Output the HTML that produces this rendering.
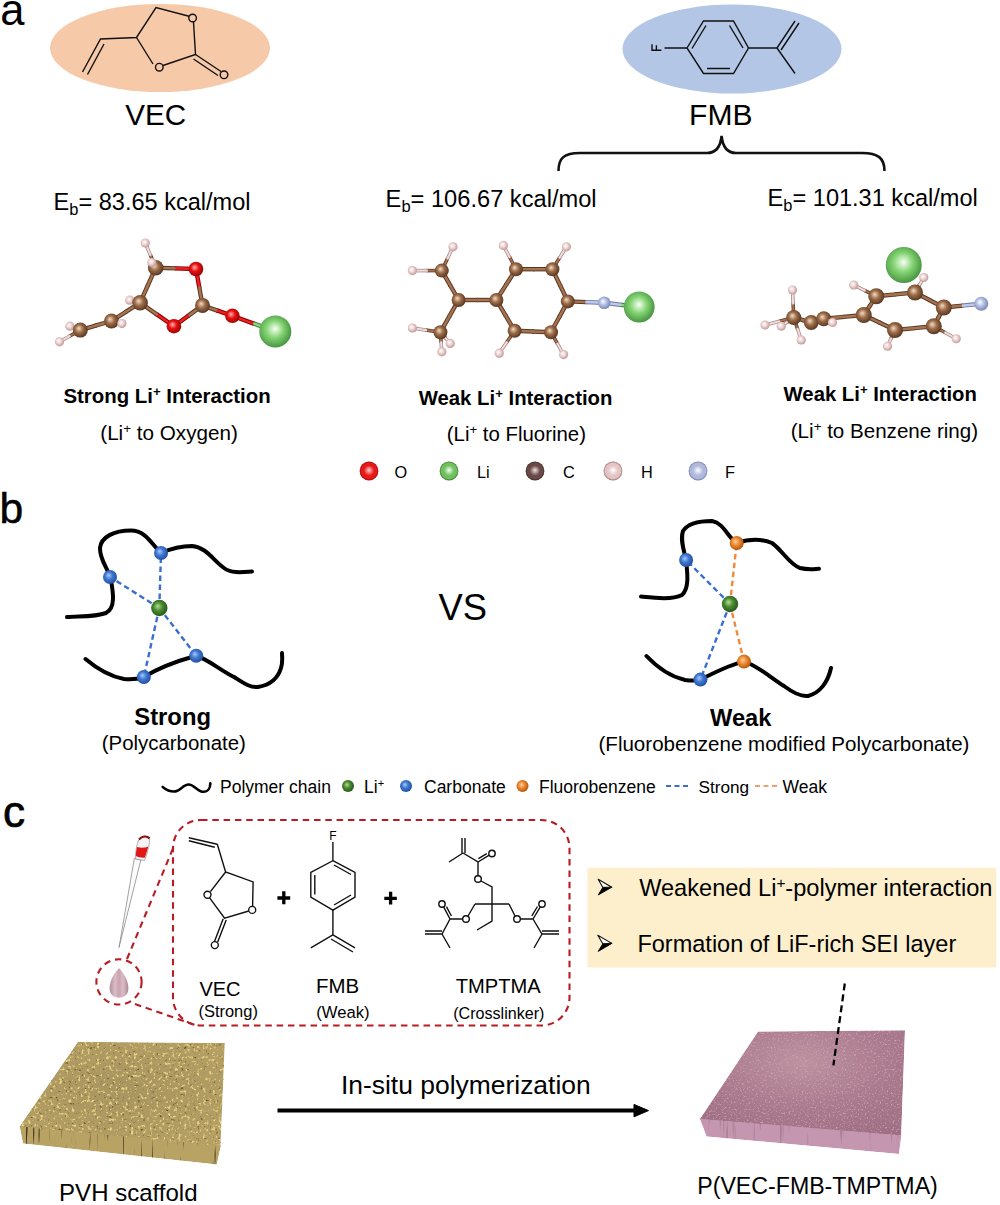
<!DOCTYPE html><html><head><meta charset="utf-8"><style>html,body{margin:0;padding:0;background:#fff;overflow:hidden}svg{display:block}text{font-family:"Liberation Sans",sans-serif}</style></head><body>
<svg width="1000" height="1205" viewBox="0 0 1000 1205">
<defs>
<radialGradient id="gC" cx="45%" cy="45%" r="60%" fx="40%" fy="38%"><stop offset="0" stop-color="#f4dcc4"/><stop offset="0.45" stop-color="#9c6c48"/><stop offset="1" stop-color="#4e301c"/></radialGradient>
<radialGradient id="gO" cx="45%" cy="45%" r="60%" fx="40%" fy="38%"><stop offset="0" stop-color="#ffb0b0"/><stop offset="0.45" stop-color="#e81010"/><stop offset="1" stop-color="#900000"/></radialGradient>
<radialGradient id="gLi" cx="45%" cy="45%" r="60%" fx="50%" fy="42%"><stop offset="0" stop-color="#f8fff4"/><stop offset="0.45" stop-color="#84d474"/><stop offset="1" stop-color="#3e8c3a"/></radialGradient>
<radialGradient id="gH" cx="45%" cy="45%" r="60%" fx="40%" fy="38%"><stop offset="0" stop-color="#ffffff"/><stop offset="0.45" stop-color="#efd4d4"/><stop offset="1" stop-color="#b89090"/></radialGradient>
<radialGradient id="gF" cx="45%" cy="45%" r="60%" fx="40%" fy="38%"><stop offset="0" stop-color="#ffffff"/><stop offset="0.45" stop-color="#b4c0e4"/><stop offset="1" stop-color="#7080b0"/></radialGradient>
<radialGradient id="gLC" cx="45%" cy="45%" r="60%" fx="40%" fy="38%"><stop offset="0" stop-color="#f0d8d0"/><stop offset="0.45" stop-color="#6e4444"/><stop offset="1" stop-color="#3a2020"/></radialGradient>
<radialGradient id="gBlue" cx="45%" cy="45%" r="60%" fx="40%" fy="38%"><stop offset="0" stop-color="#a8c8ff"/><stop offset="0.45" stop-color="#3f78d0"/><stop offset="1" stop-color="#1e4a98"/></radialGradient>
<radialGradient id="gGreen" cx="45%" cy="45%" r="60%" fx="40%" fy="38%"><stop offset="0" stop-color="#b0e090"/><stop offset="0.45" stop-color="#4a8a30"/><stop offset="1" stop-color="#24501a"/></radialGradient>
<radialGradient id="gOr" cx="45%" cy="45%" r="60%" fx="40%" fy="38%"><stop offset="0" stop-color="#ffd0a0"/><stop offset="0.45" stop-color="#ee8a30"/><stop offset="1" stop-color="#a8500a"/></radialGradient>
<radialGradient id="gOL" cx="50%" cy="50%" r="50%" fx="50%" fy="45%"><stop offset="0" stop-color="#ffd0d0"/><stop offset="0.55" stop-color="#e81818"/><stop offset="0.82" stop-color="#e81818"/><stop offset="1" stop-color="#a00808"/></radialGradient>
<radialGradient id="gLiL" cx="50%" cy="50%" r="50%" fx="50%" fy="45%"><stop offset="0" stop-color="#f0fff0"/><stop offset="0.55" stop-color="#70c060"/><stop offset="0.82" stop-color="#70c060"/><stop offset="1" stop-color="#3a7a30"/></radialGradient>
<radialGradient id="gLCL" cx="50%" cy="50%" r="50%" fx="50%" fy="45%"><stop offset="0" stop-color="#f0e0e0"/><stop offset="0.55" stop-color="#6a4a48"/><stop offset="0.82" stop-color="#6a4a48"/><stop offset="1" stop-color="#3a2828"/></radialGradient>
<radialGradient id="gHL" cx="50%" cy="50%" r="50%" fx="50%" fy="45%"><stop offset="0" stop-color="#ffffff"/><stop offset="0.55" stop-color="#e4c4c4"/><stop offset="0.82" stop-color="#e4c4c4"/><stop offset="1" stop-color="#9a7070"/></radialGradient>
<radialGradient id="gFL" cx="50%" cy="50%" r="50%" fx="50%" fy="45%"><stop offset="0" stop-color="#ffffff"/><stop offset="0.55" stop-color="#b0b8dc"/><stop offset="0.82" stop-color="#b0b8dc"/><stop offset="1" stop-color="#707aa8"/></radialGradient>
</defs>
<text x="0.34" y="25" font-size="43.53" fill="#000">a</text>
<ellipse cx="160" cy="48" rx="110" ry="44" fill="#f6c9a8"/>
<ellipse cx="732" cy="49" rx="109.5" ry="44.5" fill="#b3c6e6"/>
<g stroke="#111" stroke-width="1.4" fill="none">
<path d="M82.5,72 L100.5,39 L136.5,37.5 L156,7.5 L190,16.5"/>
<path d="M87.5,74.5 L104,44"/>
<path d="M193.5,22 L195.5,54.5 L163,65.5"/>
<path d="M153,64 L136.5,37.5"/>
<path d="M195.5,54.5 L221,71.5 M193.5,59 L218,75.5"/>
<g fill="#f6c9a8"><circle cx="192.6" cy="18" r="3.8"/><circle cx="159.3" cy="67.2" r="3.8"/><circle cx="224" cy="74.8" r="3.8"/></g>
</g>
<g stroke="#111" stroke-width="1.4" fill="none">
<path d="M687,48 L703.5,21 L733.5,21 L748.5,48 L733.5,73.5 L703.5,73.5 Z"/>
<path d="M692,48.5 L706,25.5 M729.5,25.5 L743,48 M707,68.5 L730,68.5"/>
<path d="M664.5,48 L687,48 M748.5,48 L777,48 L795,21 M777,48 L795,73.5 M781,50 L799,23"/>
</g>
<path d="M652,44.3 V50.3 H661.4 M656.4,45.3 V50.3" stroke="#111" stroke-width="1.4" fill="none"/>
<text x="125.35" y="125.3" font-size="29.60" fill="#000">VEC</text>
<text x="689.10" y="124.5" font-size="30.05" fill="#000">FMB</text>
<path d="M558.5,171 C558.5,158 564,153 580,153 L707,153 C716,153 720.5,147 721.6,136 C722.7,147 727,153 736,153 L862,153 C878,153 884.5,158 884.5,171" stroke="#111" stroke-width="2.6" fill="none"/>
<text x="53.52" y="210.3" font-size="23.55" fill="#000">E<tspan font-size="16.48" dy="4.95">b</tspan><tspan dy="-4.95">= 83.65 kcal/mol</tspan></text>
<text x="385.61" y="207" font-size="23.65" fill="#000">E<tspan font-size="16.55" dy="4.97">b</tspan><tspan dy="-4.97">= 106.67 kcal/mol</tspan></text>
<text x="767.62" y="206.3" font-size="23.56" fill="#000">E<tspan font-size="16.49" dy="4.95">b</tspan><tspan dy="-4.95">= 101.31 kcal/mol</tspan></text>
<line x1="155.7" y1="267.7" x2="150.27" y2="254.80" stroke="#5a3822" stroke-width="3.5200000000000005"/>
<line x1="150.73" y1="255.90" x2="145.3" y2="243" stroke="#a88888" stroke-width="3.5200000000000005"/>
<line x1="155.7" y1="267.7" x2="176.45" y2="268.37" stroke="#5a3822" stroke-width="4.4"/>
<line x1="175.25" y1="268.33" x2="196" y2="269" stroke="#8a0000" stroke-width="4.4"/>
<line x1="196" y1="269" x2="199.36" y2="287.79" stroke="#8a0000" stroke-width="4.4"/>
<line x1="199.14" y1="286.61" x2="202.5" y2="305.4" stroke="#5a3822" stroke-width="4.4"/>
<line x1="202.5" y1="305.4" x2="218.02" y2="310.80" stroke="#5a3822" stroke-width="4.4"/>
<line x1="216.88" y1="310.40" x2="232.4" y2="315.8" stroke="#8a0000" stroke-width="4.4"/>
<line x1="232.4" y1="315.8" x2="254.41" y2="323.81" stroke="#8a0000" stroke-width="4.4"/>
<line x1="253.29" y1="323.39" x2="275.3" y2="331.4" stroke="#3a8038" stroke-width="4.4"/>
<line x1="202.5" y1="305.4" x2="187.71" y2="316.15" stroke="#5a3822" stroke-width="4.4"/>
<line x1="188.69" y1="315.45" x2="173.9" y2="326.2" stroke="#8a0000" stroke-width="4.4"/>
<line x1="173.9" y1="326.2" x2="156.51" y2="314.16" stroke="#8a0000" stroke-width="4.4"/>
<line x1="157.49" y1="314.84" x2="140.1" y2="302.8" stroke="#5a3822" stroke-width="4.4"/>
<line x1="140.1" y1="302.8" x2="148.14" y2="284.70" stroke="#5a3822" stroke-width="4.4"/>
<line x1="147.66" y1="285.80" x2="155.7" y2="267.7" stroke="#5a3822" stroke-width="4.4"/>
<line x1="140.1" y1="302.8" x2="125.29" y2="312.22" stroke="#5a3822" stroke-width="4.4"/>
<line x1="126.31" y1="311.58" x2="111.5" y2="321" stroke="#5a3822" stroke-width="4.4"/>
<line x1="111.5" y1="321" x2="95.32" y2="325.72" stroke="#5a3822" stroke-width="4.4"/>
<line x1="96.48" y1="325.38" x2="80.3" y2="330.1" stroke="#5a3822" stroke-width="4.4"/>
<line x1="80.3" y1="330.1" x2="74.54" y2="327.94" stroke="#5a3822" stroke-width="3.5200000000000005"/>
<line x1="75.66" y1="328.36" x2="69.9" y2="326.2" stroke="#a88888" stroke-width="3.5200000000000005"/>
<line x1="80.3" y1="330.1" x2="69.38" y2="336.24" stroke="#5a3822" stroke-width="3.5200000000000005"/>
<line x1="70.42" y1="335.66" x2="59.5" y2="341.8" stroke="#a88888" stroke-width="3.5200000000000005"/>
<line x1="140.1" y1="302.8" x2="134.32" y2="301.35" stroke="#5a3822" stroke-width="3.5200000000000005"/>
<line x1="135.48" y1="301.65" x2="129.7" y2="300.2" stroke="#a88888" stroke-width="3.5200000000000005"/>
<line x1="111.5" y1="321" x2="117.28" y2="322.45" stroke="#5a3822" stroke-width="3.5200000000000005"/>
<line x1="116.12" y1="322.15" x2="121.9" y2="323.6" stroke="#a88888" stroke-width="3.5200000000000005"/>
<line x1="155.7" y1="267.7" x2="150.27" y2="254.80" stroke="#a57452" stroke-width="1.94"/>
<line x1="150.73" y1="255.90" x2="145.3" y2="243" stroke="#f2dede" stroke-width="1.94"/>
<line x1="155.7" y1="267.7" x2="176.45" y2="268.37" stroke="#a57452" stroke-width="2.42"/>
<line x1="175.25" y1="268.33" x2="196" y2="269" stroke="#ee2020" stroke-width="2.42"/>
<line x1="196" y1="269" x2="199.36" y2="287.79" stroke="#ee2020" stroke-width="2.42"/>
<line x1="199.14" y1="286.61" x2="202.5" y2="305.4" stroke="#a57452" stroke-width="2.42"/>
<line x1="202.5" y1="305.4" x2="218.02" y2="310.80" stroke="#a57452" stroke-width="2.42"/>
<line x1="216.88" y1="310.40" x2="232.4" y2="315.8" stroke="#ee2020" stroke-width="2.42"/>
<line x1="232.4" y1="315.8" x2="254.41" y2="323.81" stroke="#ee2020" stroke-width="2.42"/>
<line x1="253.29" y1="323.39" x2="275.3" y2="331.4" stroke="#88d878" stroke-width="2.42"/>
<line x1="202.5" y1="305.4" x2="187.71" y2="316.15" stroke="#a57452" stroke-width="2.42"/>
<line x1="188.69" y1="315.45" x2="173.9" y2="326.2" stroke="#ee2020" stroke-width="2.42"/>
<line x1="173.9" y1="326.2" x2="156.51" y2="314.16" stroke="#ee2020" stroke-width="2.42"/>
<line x1="157.49" y1="314.84" x2="140.1" y2="302.8" stroke="#a57452" stroke-width="2.42"/>
<line x1="140.1" y1="302.8" x2="148.14" y2="284.70" stroke="#a57452" stroke-width="2.42"/>
<line x1="147.66" y1="285.80" x2="155.7" y2="267.7" stroke="#a57452" stroke-width="2.42"/>
<line x1="140.1" y1="302.8" x2="125.29" y2="312.22" stroke="#a57452" stroke-width="2.42"/>
<line x1="126.31" y1="311.58" x2="111.5" y2="321" stroke="#a57452" stroke-width="2.42"/>
<line x1="111.5" y1="321" x2="95.32" y2="325.72" stroke="#a57452" stroke-width="2.42"/>
<line x1="96.48" y1="325.38" x2="80.3" y2="330.1" stroke="#a57452" stroke-width="2.42"/>
<line x1="80.3" y1="330.1" x2="74.54" y2="327.94" stroke="#a57452" stroke-width="1.94"/>
<line x1="75.66" y1="328.36" x2="69.9" y2="326.2" stroke="#f2dede" stroke-width="1.94"/>
<line x1="80.3" y1="330.1" x2="69.38" y2="336.24" stroke="#a57452" stroke-width="1.94"/>
<line x1="70.42" y1="335.66" x2="59.5" y2="341.8" stroke="#f2dede" stroke-width="1.94"/>
<line x1="140.1" y1="302.8" x2="134.32" y2="301.35" stroke="#a57452" stroke-width="1.94"/>
<line x1="135.48" y1="301.65" x2="129.7" y2="300.2" stroke="#f2dede" stroke-width="1.94"/>
<line x1="111.5" y1="321" x2="117.28" y2="322.45" stroke="#a57452" stroke-width="1.94"/>
<line x1="116.12" y1="322.15" x2="121.9" y2="323.6" stroke="#f2dede" stroke-width="1.94"/>
<circle cx="145.3" cy="243" r="4.6" fill="url(#gH)"/>
<circle cx="129.7" cy="300.2" r="4.6" fill="url(#gH)"/>
<circle cx="69.9" cy="326.2" r="4.6" fill="url(#gH)"/>
<circle cx="59.5" cy="341.8" r="4.6" fill="url(#gH)"/>
<circle cx="155.7" cy="267.7" r="7.8" fill="url(#gC)"/>
<circle cx="151.8" cy="262.5" r="4.6" fill="url(#gH)"/>
<circle cx="196" cy="269" r="7.3" fill="url(#gO)"/>
<circle cx="202.5" cy="305.4" r="7.5" fill="url(#gC)"/>
<circle cx="232.4" cy="315.8" r="7.3" fill="url(#gO)"/>
<circle cx="275.3" cy="331.4" r="16" fill="url(#gLi)"/>
<circle cx="173.9" cy="326.2" r="7.3" fill="url(#gO)"/>
<circle cx="140.1" cy="302.8" r="7.8" fill="url(#gC)"/>
<circle cx="111.5" cy="321" r="7.5" fill="url(#gC)"/>
<circle cx="121.9" cy="323.6" r="4.6" fill="url(#gH)"/>
<circle cx="80.3" cy="330.1" r="7.5" fill="url(#gC)"/>
<line x1="441.8" y1="270.6" x2="447.66" y2="258.16" stroke="#5a3822" stroke-width="3.5200000000000005"/>
<line x1="447.14" y1="259.24" x2="453" y2="246.8" stroke="#a88888" stroke-width="3.5200000000000005"/>
<line x1="441.8" y1="270.6" x2="426.50" y2="270.60" stroke="#5a3822" stroke-width="3.5200000000000005"/>
<line x1="427.70" y1="270.60" x2="412.4" y2="270.6" stroke="#a88888" stroke-width="3.5200000000000005"/>
<line x1="441.8" y1="270.6" x2="450.50" y2="285.82" stroke="#5a3822" stroke-width="4.4"/>
<line x1="449.90" y1="284.78" x2="458.6" y2="300" stroke="#5a3822" stroke-width="4.4"/>
<line x1="458.6" y1="300" x2="478.10" y2="300.00" stroke="#5a3822" stroke-width="4.4"/>
<line x1="476.90" y1="300.00" x2="496.4" y2="300" stroke="#5a3822" stroke-width="4.4"/>
<line x1="458.6" y1="300" x2="449.20" y2="316.62" stroke="#5a3822" stroke-width="4.4"/>
<line x1="449.80" y1="315.58" x2="440.4" y2="332.2" stroke="#5a3822" stroke-width="4.4"/>
<line x1="440.4" y1="332.2" x2="425.81" y2="330.01" stroke="#5a3822" stroke-width="3.5200000000000005"/>
<line x1="426.99" y1="330.19" x2="412.4" y2="328" stroke="#a88888" stroke-width="3.5200000000000005"/>
<line x1="440.4" y1="332.2" x2="445.70" y2="338.25" stroke="#5a3822" stroke-width="3.5200000000000005"/>
<line x1="444.90" y1="337.35" x2="450.2" y2="343.4" stroke="#a88888" stroke-width="3.5200000000000005"/>
<line x1="440.4" y1="332.2" x2="441.14" y2="342.60" stroke="#5a3822" stroke-width="3.5200000000000005"/>
<line x1="441.06" y1="341.40" x2="441.8" y2="351.8" stroke="#a88888" stroke-width="3.5200000000000005"/>
<line x1="496.4" y1="300" x2="506.52" y2="284.09" stroke="#5a3822" stroke-width="4.4"/>
<line x1="505.88" y1="285.11" x2="516" y2="269.2" stroke="#5a3822" stroke-width="4.4"/>
<line x1="516" y1="269.2" x2="534.80" y2="269.20" stroke="#5a3822" stroke-width="4.4"/>
<line x1="533.60" y1="269.20" x2="552.4" y2="269.2" stroke="#5a3822" stroke-width="4.4"/>
<line x1="552.4" y1="269.2" x2="560.36" y2="285.84" stroke="#5a3822" stroke-width="4.4"/>
<line x1="559.84" y1="284.76" x2="567.8" y2="301.4" stroke="#5a3822" stroke-width="4.4"/>
<line x1="567.8" y1="301.4" x2="559.11" y2="317.33" stroke="#5a3822" stroke-width="4.4"/>
<line x1="559.69" y1="316.27" x2="551" y2="332.2" stroke="#5a3822" stroke-width="4.4"/>
<line x1="551" y1="332.2" x2="532.20" y2="331.48" stroke="#5a3822" stroke-width="4.4"/>
<line x1="533.40" y1="331.52" x2="514.6" y2="330.8" stroke="#5a3822" stroke-width="4.4"/>
<line x1="514.6" y1="330.8" x2="505.19" y2="314.88" stroke="#5a3822" stroke-width="4.4"/>
<line x1="505.81" y1="315.92" x2="496.4" y2="300" stroke="#5a3822" stroke-width="4.4"/>
<line x1="516" y1="269.2" x2="509.42" y2="256.77" stroke="#5a3822" stroke-width="3.5200000000000005"/>
<line x1="509.98" y1="257.83" x2="503.4" y2="245.4" stroke="#a88888" stroke-width="3.5200000000000005"/>
<line x1="552.4" y1="269.2" x2="559.72" y2="257.49" stroke="#5a3822" stroke-width="3.5200000000000005"/>
<line x1="559.08" y1="258.51" x2="566.4" y2="246.8" stroke="#a88888" stroke-width="3.5200000000000005"/>
<line x1="551" y1="332.2" x2="557.59" y2="343.92" stroke="#5a3822" stroke-width="3.5200000000000005"/>
<line x1="557.01" y1="342.88" x2="563.6" y2="354.6" stroke="#a88888" stroke-width="3.5200000000000005"/>
<line x1="514.6" y1="330.8" x2="506.56" y2="342.49" stroke="#5a3822" stroke-width="3.5200000000000005"/>
<line x1="507.24" y1="341.51" x2="499.2" y2="353.2" stroke="#a88888" stroke-width="3.5200000000000005"/>
<line x1="567.8" y1="301.4" x2="586.60" y2="302.12" stroke="#5a3822" stroke-width="4.4"/>
<line x1="585.40" y1="302.08" x2="604.2" y2="302.8" stroke="#6a78a8" stroke-width="4.4"/>
<line x1="604.2" y1="302.8" x2="622.30" y2="304.97" stroke="#6a78a8" stroke-width="4.4"/>
<line x1="621.10" y1="304.83" x2="639.2" y2="307" stroke="#3a8038" stroke-width="4.4"/>
<line x1="441.8" y1="270.6" x2="447.66" y2="258.16" stroke="#a57452" stroke-width="1.94"/>
<line x1="447.14" y1="259.24" x2="453" y2="246.8" stroke="#f2dede" stroke-width="1.94"/>
<line x1="441.8" y1="270.6" x2="426.50" y2="270.60" stroke="#a57452" stroke-width="1.94"/>
<line x1="427.70" y1="270.60" x2="412.4" y2="270.6" stroke="#f2dede" stroke-width="1.94"/>
<line x1="441.8" y1="270.6" x2="450.50" y2="285.82" stroke="#a57452" stroke-width="2.42"/>
<line x1="449.90" y1="284.78" x2="458.6" y2="300" stroke="#a57452" stroke-width="2.42"/>
<line x1="458.6" y1="300" x2="478.10" y2="300.00" stroke="#a57452" stroke-width="2.42"/>
<line x1="476.90" y1="300.00" x2="496.4" y2="300" stroke="#a57452" stroke-width="2.42"/>
<line x1="458.6" y1="300" x2="449.20" y2="316.62" stroke="#a57452" stroke-width="2.42"/>
<line x1="449.80" y1="315.58" x2="440.4" y2="332.2" stroke="#a57452" stroke-width="2.42"/>
<line x1="440.4" y1="332.2" x2="425.81" y2="330.01" stroke="#a57452" stroke-width="1.94"/>
<line x1="426.99" y1="330.19" x2="412.4" y2="328" stroke="#f2dede" stroke-width="1.94"/>
<line x1="440.4" y1="332.2" x2="445.70" y2="338.25" stroke="#a57452" stroke-width="1.94"/>
<line x1="444.90" y1="337.35" x2="450.2" y2="343.4" stroke="#f2dede" stroke-width="1.94"/>
<line x1="440.4" y1="332.2" x2="441.14" y2="342.60" stroke="#a57452" stroke-width="1.94"/>
<line x1="441.06" y1="341.40" x2="441.8" y2="351.8" stroke="#f2dede" stroke-width="1.94"/>
<line x1="496.4" y1="300" x2="506.52" y2="284.09" stroke="#a57452" stroke-width="2.42"/>
<line x1="505.88" y1="285.11" x2="516" y2="269.2" stroke="#a57452" stroke-width="2.42"/>
<line x1="516" y1="269.2" x2="534.80" y2="269.20" stroke="#a57452" stroke-width="2.42"/>
<line x1="533.60" y1="269.20" x2="552.4" y2="269.2" stroke="#a57452" stroke-width="2.42"/>
<line x1="552.4" y1="269.2" x2="560.36" y2="285.84" stroke="#a57452" stroke-width="2.42"/>
<line x1="559.84" y1="284.76" x2="567.8" y2="301.4" stroke="#a57452" stroke-width="2.42"/>
<line x1="567.8" y1="301.4" x2="559.11" y2="317.33" stroke="#a57452" stroke-width="2.42"/>
<line x1="559.69" y1="316.27" x2="551" y2="332.2" stroke="#a57452" stroke-width="2.42"/>
<line x1="551" y1="332.2" x2="532.20" y2="331.48" stroke="#a57452" stroke-width="2.42"/>
<line x1="533.40" y1="331.52" x2="514.6" y2="330.8" stroke="#a57452" stroke-width="2.42"/>
<line x1="514.6" y1="330.8" x2="505.19" y2="314.88" stroke="#a57452" stroke-width="2.42"/>
<line x1="505.81" y1="315.92" x2="496.4" y2="300" stroke="#a57452" stroke-width="2.42"/>
<line x1="516" y1="269.2" x2="509.42" y2="256.77" stroke="#a57452" stroke-width="1.94"/>
<line x1="509.98" y1="257.83" x2="503.4" y2="245.4" stroke="#f2dede" stroke-width="1.94"/>
<line x1="552.4" y1="269.2" x2="559.72" y2="257.49" stroke="#a57452" stroke-width="1.94"/>
<line x1="559.08" y1="258.51" x2="566.4" y2="246.8" stroke="#f2dede" stroke-width="1.94"/>
<line x1="551" y1="332.2" x2="557.59" y2="343.92" stroke="#a57452" stroke-width="1.94"/>
<line x1="557.01" y1="342.88" x2="563.6" y2="354.6" stroke="#f2dede" stroke-width="1.94"/>
<line x1="514.6" y1="330.8" x2="506.56" y2="342.49" stroke="#a57452" stroke-width="1.94"/>
<line x1="507.24" y1="341.51" x2="499.2" y2="353.2" stroke="#f2dede" stroke-width="1.94"/>
<line x1="567.8" y1="301.4" x2="586.60" y2="302.12" stroke="#a57452" stroke-width="2.42"/>
<line x1="585.40" y1="302.08" x2="604.2" y2="302.8" stroke="#c0cae8" stroke-width="2.42"/>
<line x1="604.2" y1="302.8" x2="622.30" y2="304.97" stroke="#c0cae8" stroke-width="2.42"/>
<line x1="621.10" y1="304.83" x2="639.2" y2="307" stroke="#88d878" stroke-width="2.42"/>
<circle cx="453" cy="246.8" r="4.6" fill="url(#gH)"/>
<circle cx="412.4" cy="270.6" r="4.6" fill="url(#gH)"/>
<circle cx="412.4" cy="328" r="4.6" fill="url(#gH)"/>
<circle cx="441.8" cy="351.8" r="4.6" fill="url(#gH)"/>
<circle cx="503.4" cy="245.4" r="4.6" fill="url(#gH)"/>
<circle cx="566.4" cy="246.8" r="4.6" fill="url(#gH)"/>
<circle cx="563.6" cy="354.6" r="4.6" fill="url(#gH)"/>
<circle cx="499.2" cy="353.2" r="4.6" fill="url(#gH)"/>
<circle cx="441.8" cy="270.6" r="7" fill="url(#gC)"/>
<circle cx="458.6" cy="300" r="7" fill="url(#gC)"/>
<circle cx="440.4" cy="332.2" r="7" fill="url(#gC)"/>
<circle cx="450.2" cy="343.4" r="4.6" fill="url(#gH)"/>
<circle cx="496.4" cy="300" r="7" fill="url(#gC)"/>
<circle cx="516" cy="269.2" r="7" fill="url(#gC)"/>
<circle cx="552.4" cy="269.2" r="7" fill="url(#gC)"/>
<circle cx="567.8" cy="301.4" r="7" fill="url(#gC)"/>
<circle cx="551" cy="332.2" r="7" fill="url(#gC)"/>
<circle cx="514.6" cy="330.8" r="7" fill="url(#gC)"/>
<circle cx="604.2" cy="302.8" r="6.3" fill="url(#gF)"/>
<circle cx="639.2" cy="307" r="15.4" fill="url(#gLi)"/>
<line x1="863.75" y1="315" x2="870.33" y2="305.13" stroke="#5a3822" stroke-width="4.4"/>
<line x1="869.67" y1="306.12" x2="876.25" y2="296.25" stroke="#5a3822" stroke-width="4.4"/>
<line x1="876.25" y1="296.25" x2="896.22" y2="294.32" stroke="#5a3822" stroke-width="4.4"/>
<line x1="895.03" y1="294.43" x2="915" y2="292.5" stroke="#5a3822" stroke-width="4.4"/>
<line x1="915" y1="292.5" x2="929.91" y2="300.28" stroke="#5a3822" stroke-width="4.4"/>
<line x1="928.84" y1="299.72" x2="943.75" y2="307.5" stroke="#5a3822" stroke-width="4.4"/>
<line x1="943.75" y1="307.5" x2="938.47" y2="317.40" stroke="#5a3822" stroke-width="4.4"/>
<line x1="939.03" y1="316.35" x2="933.75" y2="326.25" stroke="#5a3822" stroke-width="4.4"/>
<line x1="933.75" y1="326.25" x2="913.78" y2="328.18" stroke="#5a3822" stroke-width="4.4"/>
<line x1="914.97" y1="328.07" x2="895" y2="330" stroke="#5a3822" stroke-width="4.4"/>
<line x1="895" y1="330" x2="878.83" y2="322.24" stroke="#5a3822" stroke-width="4.4"/>
<line x1="879.92" y1="322.76" x2="863.75" y2="315" stroke="#5a3822" stroke-width="4.4"/>
<line x1="915" y1="292.5" x2="919.68" y2="284.48" stroke="#5a3822" stroke-width="3.5200000000000005"/>
<line x1="919.07" y1="285.52" x2="923.75" y2="277.5" stroke="#a88888" stroke-width="3.5200000000000005"/>
<line x1="876.25" y1="296.25" x2="864.46" y2="290.36" stroke="#5a3822" stroke-width="3.5200000000000005"/>
<line x1="865.54" y1="290.89" x2="853.75" y2="285" stroke="#a88888" stroke-width="3.5200000000000005"/>
<line x1="943.75" y1="307.5" x2="963.10" y2="305.57" stroke="#5a3822" stroke-width="4.4"/>
<line x1="961.90" y1="305.68" x2="981.25" y2="303.75" stroke="#6a78a8" stroke-width="4.4"/>
<line x1="933.75" y1="326.25" x2="945.52" y2="332.79" stroke="#5a3822" stroke-width="3.5200000000000005"/>
<line x1="944.48" y1="332.21" x2="956.25" y2="338.75" stroke="#a88888" stroke-width="3.5200000000000005"/>
<line x1="895" y1="330" x2="891.00" y2="338.67" stroke="#5a3822" stroke-width="3.5200000000000005"/>
<line x1="891.50" y1="337.58" x2="887.5" y2="346.25" stroke="#a88888" stroke-width="3.5200000000000005"/>
<line x1="863.75" y1="315" x2="843.15" y2="316.93" stroke="#5a3822" stroke-width="4.4"/>
<line x1="844.35" y1="316.82" x2="823.75" y2="318.75" stroke="#5a3822" stroke-width="4.4"/>
<line x1="823.75" y1="318.75" x2="816.93" y2="320.80" stroke="#5a3822" stroke-width="4.4"/>
<line x1="818.07" y1="320.45" x2="811.25" y2="322.5" stroke="#5a3822" stroke-width="4.4"/>
<line x1="811.25" y1="322.5" x2="801.92" y2="319.84" stroke="#5a3822" stroke-width="4.4"/>
<line x1="803.08" y1="320.16" x2="793.75" y2="317.5" stroke="#5a3822" stroke-width="4.4"/>
<line x1="793.75" y1="317.5" x2="793.10" y2="303.15" stroke="#5a3822" stroke-width="3.5200000000000005"/>
<line x1="793.15" y1="304.35" x2="792.5" y2="290" stroke="#a88888" stroke-width="3.5200000000000005"/>
<line x1="793.75" y1="317.5" x2="778.79" y2="321.40" stroke="#5a3822" stroke-width="3.5200000000000005"/>
<line x1="779.96" y1="321.10" x2="765" y2="325" stroke="#a88888" stroke-width="3.5200000000000005"/>
<line x1="793.75" y1="317.5" x2="787.01" y2="322.22" stroke="#5a3822" stroke-width="3.5200000000000005"/>
<line x1="787.99" y1="321.53" x2="781.25" y2="326.25" stroke="#a88888" stroke-width="3.5200000000000005"/>
<line x1="793.75" y1="317.5" x2="797.69" y2="329.32" stroke="#5a3822" stroke-width="3.5200000000000005"/>
<line x1="797.31" y1="328.18" x2="801.25" y2="340" stroke="#a88888" stroke-width="3.5200000000000005"/>
<line x1="823.75" y1="318.75" x2="828.68" y2="320.86" stroke="#5a3822" stroke-width="3.5200000000000005"/>
<line x1="827.57" y1="320.39" x2="832.5" y2="322.5" stroke="#a88888" stroke-width="3.5200000000000005"/>
<line x1="863.75" y1="315" x2="870.33" y2="305.13" stroke="#a57452" stroke-width="2.42"/>
<line x1="869.67" y1="306.12" x2="876.25" y2="296.25" stroke="#a57452" stroke-width="2.42"/>
<line x1="876.25" y1="296.25" x2="896.22" y2="294.32" stroke="#a57452" stroke-width="2.42"/>
<line x1="895.03" y1="294.43" x2="915" y2="292.5" stroke="#a57452" stroke-width="2.42"/>
<line x1="915" y1="292.5" x2="929.91" y2="300.28" stroke="#a57452" stroke-width="2.42"/>
<line x1="928.84" y1="299.72" x2="943.75" y2="307.5" stroke="#a57452" stroke-width="2.42"/>
<line x1="943.75" y1="307.5" x2="938.47" y2="317.40" stroke="#a57452" stroke-width="2.42"/>
<line x1="939.03" y1="316.35" x2="933.75" y2="326.25" stroke="#a57452" stroke-width="2.42"/>
<line x1="933.75" y1="326.25" x2="913.78" y2="328.18" stroke="#a57452" stroke-width="2.42"/>
<line x1="914.97" y1="328.07" x2="895" y2="330" stroke="#a57452" stroke-width="2.42"/>
<line x1="895" y1="330" x2="878.83" y2="322.24" stroke="#a57452" stroke-width="2.42"/>
<line x1="879.92" y1="322.76" x2="863.75" y2="315" stroke="#a57452" stroke-width="2.42"/>
<line x1="915" y1="292.5" x2="919.68" y2="284.48" stroke="#a57452" stroke-width="1.94"/>
<line x1="919.07" y1="285.52" x2="923.75" y2="277.5" stroke="#f2dede" stroke-width="1.94"/>
<line x1="876.25" y1="296.25" x2="864.46" y2="290.36" stroke="#a57452" stroke-width="1.94"/>
<line x1="865.54" y1="290.89" x2="853.75" y2="285" stroke="#f2dede" stroke-width="1.94"/>
<line x1="943.75" y1="307.5" x2="963.10" y2="305.57" stroke="#a57452" stroke-width="2.42"/>
<line x1="961.90" y1="305.68" x2="981.25" y2="303.75" stroke="#c0cae8" stroke-width="2.42"/>
<line x1="933.75" y1="326.25" x2="945.52" y2="332.79" stroke="#a57452" stroke-width="1.94"/>
<line x1="944.48" y1="332.21" x2="956.25" y2="338.75" stroke="#f2dede" stroke-width="1.94"/>
<line x1="895" y1="330" x2="891.00" y2="338.67" stroke="#a57452" stroke-width="1.94"/>
<line x1="891.50" y1="337.58" x2="887.5" y2="346.25" stroke="#f2dede" stroke-width="1.94"/>
<line x1="863.75" y1="315" x2="843.15" y2="316.93" stroke="#a57452" stroke-width="2.42"/>
<line x1="844.35" y1="316.82" x2="823.75" y2="318.75" stroke="#a57452" stroke-width="2.42"/>
<line x1="823.75" y1="318.75" x2="816.93" y2="320.80" stroke="#a57452" stroke-width="2.42"/>
<line x1="818.07" y1="320.45" x2="811.25" y2="322.5" stroke="#a57452" stroke-width="2.42"/>
<line x1="811.25" y1="322.5" x2="801.92" y2="319.84" stroke="#a57452" stroke-width="2.42"/>
<line x1="803.08" y1="320.16" x2="793.75" y2="317.5" stroke="#a57452" stroke-width="2.42"/>
<line x1="793.75" y1="317.5" x2="793.10" y2="303.15" stroke="#a57452" stroke-width="1.94"/>
<line x1="793.15" y1="304.35" x2="792.5" y2="290" stroke="#f2dede" stroke-width="1.94"/>
<line x1="793.75" y1="317.5" x2="778.79" y2="321.40" stroke="#a57452" stroke-width="1.94"/>
<line x1="779.96" y1="321.10" x2="765" y2="325" stroke="#f2dede" stroke-width="1.94"/>
<line x1="793.75" y1="317.5" x2="787.01" y2="322.22" stroke="#a57452" stroke-width="1.94"/>
<line x1="787.99" y1="321.53" x2="781.25" y2="326.25" stroke="#f2dede" stroke-width="1.94"/>
<line x1="793.75" y1="317.5" x2="797.69" y2="329.32" stroke="#a57452" stroke-width="1.94"/>
<line x1="797.31" y1="328.18" x2="801.25" y2="340" stroke="#f2dede" stroke-width="1.94"/>
<line x1="823.75" y1="318.75" x2="828.68" y2="320.86" stroke="#a57452" stroke-width="1.94"/>
<line x1="827.57" y1="320.39" x2="832.5" y2="322.5" stroke="#f2dede" stroke-width="1.94"/>
<circle cx="792.5" cy="290" r="4.6" fill="url(#gH)"/>
<circle cx="765" cy="325" r="4.6" fill="url(#gH)"/>
<circle cx="793.75" cy="317.5" r="7.5" fill="url(#gC)"/>
<circle cx="781.25" cy="326.25" r="4.6" fill="url(#gH)"/>
<circle cx="801.25" cy="340" r="4.6" fill="url(#gH)"/>
<circle cx="811.25" cy="322.5" r="7.5" fill="url(#gC)"/>
<circle cx="823.75" cy="318.75" r="7.5" fill="url(#gC)"/>
<circle cx="832.5" cy="322.5" r="4.6" fill="url(#gH)"/>
<circle cx="853.75" cy="285" r="4.6" fill="url(#gH)"/>
<circle cx="923.75" cy="277.5" r="4.6" fill="url(#gH)"/>
<circle cx="956.25" cy="338.75" r="4.6" fill="url(#gH)"/>
<circle cx="887.5" cy="346.25" r="4.6" fill="url(#gH)"/>
<circle cx="863.75" cy="315" r="8" fill="url(#gC)"/>
<circle cx="876.25" cy="296.25" r="8" fill="url(#gC)"/>
<circle cx="915" cy="292.5" r="8" fill="url(#gC)"/>
<circle cx="943.75" cy="307.5" r="8" fill="url(#gC)"/>
<circle cx="933.75" cy="326.25" r="8" fill="url(#gC)"/>
<circle cx="895" cy="330" r="8" fill="url(#gC)"/>
<circle cx="981.25" cy="303.75" r="7" fill="url(#gF)"/>
<circle cx="903.75" cy="265" r="18" fill="url(#gLi)"/>
<text x="63.39" y="403.4" font-size="20.42" font-weight="bold" fill="#000">Strong Li<tspan font-size="13.27" dy="-7.35">+</tspan><tspan dy="7.35"> Interaction</tspan></text>
<text x="100.26" y="440.2" font-size="20.66" fill="#000">(Li<tspan font-size="13.43" dy="-7.44">+</tspan><tspan dy="7.44"> to Oxygen)</tspan></text>
<text x="418.70" y="405.1" font-size="20.33" font-weight="bold" fill="#000">Weak Li<tspan font-size="13.21" dy="-7.32">+</tspan><tspan dy="7.32"> Interaction</tspan></text>
<text x="446.78" y="441.2" font-size="20.40" fill="#000">(Li<tspan font-size="13.26" dy="-7.34">+</tspan><tspan dy="7.34"> to Fluorine)</tspan></text>
<text x="783.60" y="401" font-size="20.29" font-weight="bold" fill="#000">Weak Li<tspan font-size="13.19" dy="-7.30">+</tspan><tspan dy="7.30"> Interaction</tspan></text>
<text x="790.77" y="438.2" font-size="20.57" fill="#000">(Li<tspan font-size="13.37" dy="-7.41">+</tspan><tspan dy="7.41"> to Benzene ring)</tspan></text>
<circle cx="369" cy="471" r="9.4" fill="url(#gOL)"/>
<text x="394.5" y="477.8" font-size="16.3" text-anchor="start" fill="#000" >O</text>
<circle cx="449" cy="471" r="9.4" fill="url(#gLiL)"/>
<text x="477" y="477.8" font-size="16.3" text-anchor="start" fill="#000" >Li</text>
<circle cx="535" cy="471" r="9.4" fill="url(#gLCL)"/>
<text x="563" y="477.8" font-size="16.3" text-anchor="start" fill="#000" >C</text>
<circle cx="613" cy="471" r="9.4" fill="url(#gHL)"/>
<text x="641" y="477.8" font-size="16.3" text-anchor="start" fill="#000" >H</text>
<circle cx="698" cy="471" r="9.4" fill="url(#gFL)"/>
<text x="725" y="477.8" font-size="16.3" text-anchor="start" fill="#000" >F</text>
<text stroke="#000" stroke-width="0.5" x="-0.47" y="523" font-size="42.67" fill="#000">b</text>
<path stroke="#000" stroke-width="4" fill="none" stroke-linecap="round" stroke-linejoin="round" d="M67,617 C80,616 95,617 106,613 C116,608 113,592 111,580 C109,570 99.5,560 100,548 C101,537 114,530.5 131,530.5 C146,530.5 152,545 161,553 C170,549 180,546 192,546 C206,547 213,560 224,568 C232,574 244,572 252,571.5"/>
<path stroke="#000" stroke-width="4" fill="none" stroke-linecap="round" stroke-linejoin="round" d="M85.5,659 C95,667 108,676 124,679 C132,680 138,679 143.8,677 C155,670 170,663 196,655.7 C206,658 220,670 234,677 C242,682 250,688 258,687 C270,685 278,678 281,668 C283,662 282,657 282,653"/>
<line x1="159.3" y1="608" x2="110" y2="577" stroke="#3a6ed0" stroke-width="2.4" fill="none" stroke-dasharray="5.5,3.5"/>
<line x1="159.3" y1="608" x2="161" y2="553" stroke="#3a6ed0" stroke-width="2.4" fill="none" stroke-dasharray="5.5,3.5"/>
<line x1="159.3" y1="608" x2="143.8" y2="677" stroke="#3a6ed0" stroke-width="2.4" fill="none" stroke-dasharray="5.5,3.5"/>
<line x1="159.3" y1="608" x2="196.2" y2="655.7" stroke="#3a6ed0" stroke-width="2.4" fill="none" stroke-dasharray="5.5,3.5"/>
<circle cx="110" cy="577" r="7" fill="url(#gBlue)"/>
<circle cx="161" cy="553" r="7" fill="url(#gBlue)"/>
<circle cx="143.8" cy="677" r="7" fill="url(#gBlue)"/>
<circle cx="196.2" cy="655.7" r="7" fill="url(#gBlue)"/>
<circle cx="159.3" cy="608" r="8.2" fill="url(#gGreen)"/>
<path stroke="#000" stroke-width="4" fill="none" stroke-linecap="round" stroke-linejoin="round" d="M641,596.6 C655,598 672,600 682,595 C690,588 687,570 686,560 C684,550 680,540 683,531 C688,523 700,521 712,521 C724,523 728,538 736.7,543 C746,540 760,538 772,543 C782,550 790,565 800,568 C808,570 814,569 819,568.8"/>
<path stroke="#000" stroke-width="4" fill="none" stroke-linecap="round" stroke-linejoin="round" d="M646.5,656 C655,665 668,676 685,680 C692,681 696,681 700.4,679.6 C710,675 728,665 744,661.6 C755,664 770,677 784,686 C792,692 800,697 808,696 C820,693 828,682 831,668"/>
<line x1="730" y1="604" x2="686.1" y2="560" stroke="#3a6ed0" stroke-width="2.4" fill="none" stroke-dasharray="5.5,3.5"/>
<line x1="730" y1="604" x2="700.4" y2="679.6" stroke="#3a6ed0" stroke-width="2.4" fill="none" stroke-dasharray="5.5,3.5"/>
<line x1="730" y1="604" x2="736.7" y2="543" stroke="#ee8a3a" stroke-width="2.4" fill="none" stroke-dasharray="5.5,3.5"/>
<line x1="730" y1="604" x2="744" y2="661.6" stroke="#ee8a3a" stroke-width="2.4" fill="none" stroke-dasharray="5.5,3.5"/>
<circle cx="686.1" cy="560" r="7" fill="url(#gBlue)"/><circle cx="700.4" cy="679.6" r="7" fill="url(#gBlue)"/>
<circle cx="736.7" cy="543" r="7" fill="url(#gOr)"/><circle cx="744" cy="661.6" r="7" fill="url(#gOr)"/>
<circle cx="730" cy="604" r="8.2" fill="url(#gGreen)"/>
<text x="438.57" y="619.5" font-size="36.37" fill="#000">VS</text>
<text x="134.29" y="724.8" font-size="23.81" font-weight="bold" fill="#000">Strong</text>
<text x="101.77" y="749.6" font-size="20.42" fill="#000">(Polycarbonate)</text>
<text x="710.00" y="726.3" font-size="23.66" font-weight="bold" fill="#000">Weak</text>
<text x="598.52" y="750.6" font-size="20.54" fill="#000">(Fluorobenzene modified Polycarbonate)</text>
<path d="M162.7,786.9 C166,789.6 170,791.5 174,791.5 C180,791.5 183,784.5 188.6,784.5 C194,784.5 198,791.8 203.3,791.8 C208,791.8 210.3,788 210.3,783.4" stroke="#000" stroke-width="2.6" fill="none" stroke-linecap="round"/>
<text x="220" y="793" font-size="17.5" text-anchor="start" fill="#000" >Polymer chain</text>
<circle cx="348" cy="786" r="6" fill="url(#gGreen)"/>
<text x="364" y="793" font-size="17.5">Li<tspan font-size="11" dy="-6">+</tspan></text>
<circle cx="406" cy="786" r="6" fill="url(#gBlue)"/>
<text x="424" y="793" font-size="17.5" text-anchor="start" fill="#000" >Carbonate</text>
<circle cx="522.5" cy="786" r="6" fill="url(#gOr)"/>
<text x="539" y="793" font-size="17.5" text-anchor="start" fill="#000" >Fluorobenzene</text>
<line x1="666" y1="786" x2="691" y2="786" stroke="#3a6ed0" stroke-width="2" stroke-dasharray="5,3.5"/>
<text x="698.5" y="793" font-size="17.2" text-anchor="start" fill="#000" >Strong</text>
<line x1="755" y1="786" x2="778" y2="786" stroke="#f0a070" stroke-width="2" stroke-dasharray="5,3.5"/>
<text x="782.5" y="793" font-size="17.5" text-anchor="start" fill="#000" >Weak</text>
<text stroke="#000" stroke-width="0.7" x="3.01" y="827.2" font-size="44.19" fill="#000">c</text>
<rect x="173" y="820" width="396.5" height="205.5" rx="28" ry="28" stroke="#b81c24" stroke-width="2.1" fill="none" stroke-dasharray="6.5,4.8"/>
<circle cx="119" cy="981.9" r="22.6" stroke="#b81c24" stroke-width="2.1" fill="none" stroke-dasharray="6.5,4.8"/>
<path d="M127,959 L174,846" stroke="#b81c24" stroke-width="2.1" fill="none" stroke-dasharray="6.5,4.8"/>
<path d="M135,1004 L195,1025" stroke="#b81c24" stroke-width="2.1" fill="none" stroke-dasharray="6.5,4.8"/>
<path d="M134.3,858.5 L140.8,860 L119,947.5 Z" fill="#fbfbfb" stroke="#8a8a8a" stroke-width="0.8" stroke-linejoin="round"/>
<path d="M135.5,859 C135.5,850 137,841 140.5,838 C143.5,835.5 148,836 149.5,838.5 C150,842 148,852 144.5,860.5 Z" fill="#f4f4f4" stroke="#9a9a9a" stroke-width="0.8"/>
<path d="M135.8,856 C136,852 136.5,849 137,847 C141,848 145,848 148.2,846.5 C147.5,850 146,854 145,857.5 C142,858 139,857.5 135.8,856 Z" fill="#e01818"/>
<path d="M139,839.5 C142,836 147,835.5 149.5,838.5" stroke="#8a1010" stroke-width="2" fill="none"/>
<defs><linearGradient id="gDrop" x1="0" y1="0" x2="1" y2="0"><stop offset="0" stop-color="#b0909c"/><stop offset="0.3" stop-color="#dcbcc6"/><stop offset="0.5" stop-color="#c8a4b0"/><stop offset="0.72" stop-color="#dcbcc6"/><stop offset="1" stop-color="#a88894"/></linearGradient></defs>
<path d="M119,968 C115,972 109.6,980 109.6,988.5 C109.6,994.5 113.5,997.6 119,997.6 C124.5,997.6 128.4,994.5 128.4,988.5 C128.4,980 123,972 119,968 Z" fill="url(#gDrop)"/>
<g stroke="#111" stroke-width="1.4" fill="none">
<path d="M188.8,837.8 L217.3,844.2 M188.8,840.8 L214.8,847.3 M217.3,844.2 L225.6,872 L253.1,881.9 L252.6,906.3 M248.8,911 L224.6,918.2 L209.6,897.8 M210.4,891.6 L225.6,872 M223.2,918.8 L214.5,941.6 M226.2,920 L217.6,942.3"/>
<g fill="#fff"><circle cx="207.5" cy="894.8" r="3.5"/><circle cx="252.2" cy="909.9" r="3.5"/><circle cx="214.8" cy="945.1" r="3.5"/></g>
</g>
<path d="M277.4,898 H290.2 M283.8,891.2 V904.2" stroke="#000" stroke-width="3.3"/>
<path d="M384.3,898.4 H396.8 M390.6,891.8 V904.4" stroke="#000" stroke-width="3.3"/>
<g stroke="#111" stroke-width="1.4" fill="none">
<path d="M332.9,842 L332.9,860.7"/><path d="M332.9,860.7 L355,872.4 L355,897.1 L332.9,910.1 L310.8,897.1 L310.8,872.4 Z"/>
<path d="M334,865 L351,874.5 M351,895 L334,905 M314.8,875 L314.8,894.5"/>
<path d="M332.9,910.1 L332.9,934.8 L310.8,947.8 M332.9,934.8 L355,947.8 M331,939 L353,952"/>
</g>
<text x="332.9" y="840" font-size="12" text-anchor="middle" fill="#000" >F</text>
<g stroke="#111" stroke-width="1.4" fill="none">
<path d="M462,838 L462,853 M465,838 L465,853"/>
<path d="M463,853 L449,862 M463,853 L478,862 L478,876 M478.0,862.0 L489.2,855.2 M478.4,858.7 L486.8,853.6"/>
<path d="M481,881 L492,887 L492,921 L477,930 M475,904 L509,904 M475,904 L468,916 M509,904 L515,916"/>
<path d="M463,919 L450,919 M450.0,919.0 L443.6,906.9 M451.4,916.0 L446.4,906.7 M450,919 L442,934 L425,934 M442,931 L425,931 M442,934 L450,948"/>
<path d="M520,919 L533,919 M533.0,919.0 L540.3,906.8 M531.8,915.9 L537.5,906.5 M533,919 L542,934 L559,934 M542,931 L559,931 M542,934 L534,948"/>
<g fill="#fff"><circle cx="492" cy="853.5" r="3.2"/><circle cx="478" cy="879" r="3.3"/><circle cx="466" cy="919" r="3.3"/><circle cx="517" cy="919" r="3.3"/><circle cx="442" cy="904" r="3.2"/><circle cx="542" cy="904" r="3.2"/></g>
</g>
<text x="199.40" y="995.6" font-size="20.05" fill="#000">VEC</text>
<text x="198.51" y="1016.5" font-size="16.45" fill="#000">(Strong)</text>
<text x="316.06" y="993.2" font-size="20.45" fill="#000">FMB</text>
<text x="316.30" y="1017.5" font-size="16.66" fill="#000">(Weak)</text>
<text x="455.80" y="993.4" font-size="20.14" fill="#000">TMPTMA</text>
<text x="453.23" y="1018.6" font-size="16.10" fill="#000">(Crosslinker)</text>
<rect x="587.4" y="867.6" width="408.9" height="99.9" fill="#fdefcc"/>
<path d="M602.8,887.4 L611.8,887.2 L598.2,895 Z" fill="#000" stroke="#000" stroke-width="0.9" stroke-linejoin="round"/><path d="M598.2,879.2 L611.8,887.2 L602.8,887.4 Z" fill="#fff" stroke="#111" stroke-width="1.1" stroke-linejoin="round"/>
<path d="M602.8,943.8 L611.8,943.4 L598.2,951.4 Z" fill="#000" stroke="#000" stroke-width="0.9" stroke-linejoin="round"/><path d="M597.8,935.2 L611.8,943.4 L602.8,943.8 Z" fill="#fff" stroke="#111" stroke-width="1.1" stroke-linejoin="round"/>
<text x="639.18" y="896" font-size="23.59" fill="#000">Weakened Li<tspan font-size="15.33" dy="-8.49">+</tspan><tspan dy="8.49">-polymer interaction</tspan></text>
<text x="637.42" y="952.2" font-size="23.52" fill="#000">Formation of LiF-rich SEI layer</text>
<defs>
<filter id="speckG" x="0" y="0" width="100%" height="100%" color-interpolation-filters="sRGB">
 <feTurbulence type="fractalNoise" baseFrequency="0.32" numOctaves="2" seed="4" result="n"/>
 <feColorMatrix in="n" type="matrix" values="0 0 0 0 0.9  0 0 0 0 0.82  0 0 0 0 0.5  6 0 0 0 -3.45" result="lt"/>
 <feColorMatrix in="n" type="matrix" values="0 0 0 0 0.4  0 0 0 0 0.32  0 0 0 0 0.15  0 5 0 0 -3.3" result="dk"/>
 <feMerge result="m"><feMergeNode in="SourceGraphic"/><feMergeNode in="dk"/><feMergeNode in="lt"/></feMerge>
 <feComposite in="m" in2="SourceGraphic" operator="in"/>
</filter>
<filter id="speckP" x="0" y="0" width="100%" height="100%" color-interpolation-filters="sRGB">
 <feTurbulence type="fractalNoise" baseFrequency="0.55" numOctaves="2" seed="7" result="n"/>
 <feColorMatrix in="n" type="matrix" values="0 0 0 0 0.84  0 0 0 0 0.64  0 0 0 0 0.72  3.2 0 0 0 -1.75" result="lt"/>
 <feMerge result="m"><feMergeNode in="SourceGraphic"/><feMergeNode in="lt"/></feMerge>
 <feComposite in="m" in2="SourceGraphic" operator="in"/>
</filter>
<filter id="streak" x="0" y="0" width="100%" height="100%" color-interpolation-filters="sRGB">
 <feTurbulence type="fractalNoise" baseFrequency="0.35 0.02" numOctaves="2" seed="2" result="n"/>
 <feColorMatrix in="n" type="matrix" values="0 0 0 0 0.25  0 0 0 0 0.2  0 0 0 0 0.1  5 0 0 0 -3.1" result="dk"/>
 <feMerge result="m"><feMergeNode in="SourceGraphic"/><feMergeNode in="dk"/></feMerge>
 <feComposite in="m" in2="SourceGraphic" operator="in"/>
</filter>
<filter id="streakP" x="0" y="0" width="100%" height="100%" color-interpolation-filters="sRGB">
 <feTurbulence type="fractalNoise" baseFrequency="0.3 0.02" numOctaves="2" seed="5" result="n"/>
 <feColorMatrix in="n" type="matrix" values="0 0 0 0 0.55  0 0 0 0 0.38  0 0 0 0 0.45  3 0 0 0 -1.95" result="dk"/>
 <feMerge result="m"><feMergeNode in="SourceGraphic"/><feMergeNode in="dk"/></feMerge>
 <feComposite in="m" in2="SourceGraphic" operator="in"/>
</filter>
<radialGradient id="gGold" cx="0.5" cy="0.45" r="0.8"><stop offset="0" stop-color="#a89460"/><stop offset="1" stop-color="#b8a266"/></radialGradient>
<radialGradient id="gPink" cx="0.5" cy="0.3" r="0.85"><stop offset="0" stop-color="#bc92a0"/><stop offset="0.55" stop-color="#a8788c"/><stop offset="1" stop-color="#9c6c82"/></radialGradient>
</defs>
<path d="M19.5,1125.5 L221,1145 L216.8,1164.5 L23,1143.5 Z" fill="#b8a264" filter="url(#streak)"/>
<path d="M78,1041.7 L224.9,1043 L220.5,1146 L19.5,1126.5 Z" fill="url(#gGold)" filter="url(#speckG)"/>
<path d="M699.5,1118 L901.5,1134.5 L899,1154 L706.5,1136.5 Z" fill="#c496b0" filter="url(#streakP)"/>
<path d="M758,1031.6 L905,1030.3 L901.2,1135.5 L699.9,1118.9 Z" fill="url(#gPink)" filter="url(#speckP)"/>
<line x1="844.8" y1="983.5" x2="833.4" y2="1065.4" stroke="#000" stroke-width="2.3" stroke-dasharray="7,4"/>
<line x1="277.5" y1="1110.6" x2="638" y2="1110.6" stroke="#000" stroke-width="4"/>
<path d="M634,1104.4 L648.5,1110.6 L634,1116.8 Z" fill="#000" stroke="#000" stroke-width="1" stroke-linejoin="miter"/>
<text x="340.92" y="1094.3" font-size="26.45" fill="#000">In-situ polymerization</text>
<text x="59.08" y="1201.2" font-size="24.04" fill="#000">PVH scaffold</text>
<text x="697.25" y="1193.6" font-size="23.17" fill="#000">P(VEC-FMB-TMPTMA)</text>
</svg></body></html>
